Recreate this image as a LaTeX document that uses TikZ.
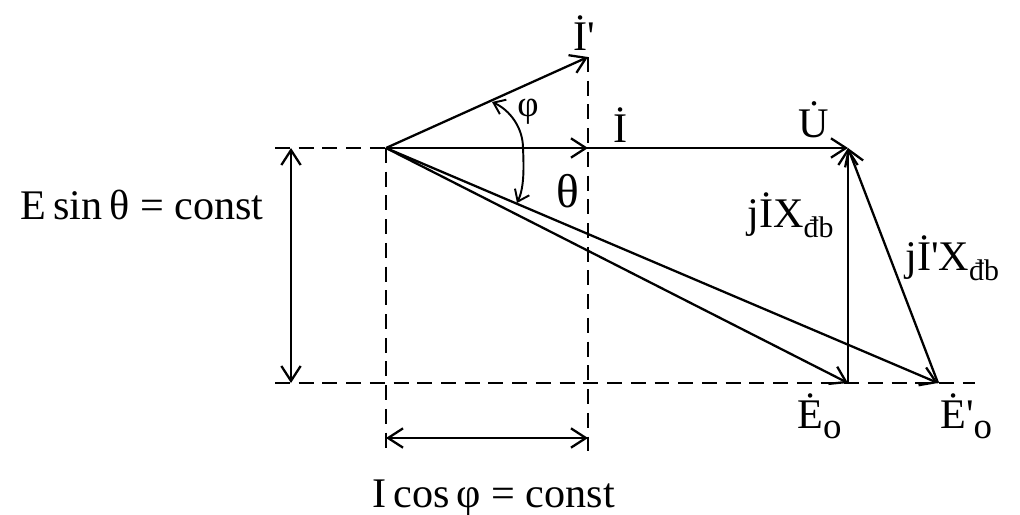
\documentclass[tikz,border=0pt]{standalone}
\usepackage{fontspec}
\setmainfont{Liberation Serif}
\usetikzlibrary{arrows.meta}
\newcommand\dotU{\.{U}}
\newcommand\prm{\textquotesingle}
\newcommand\subsc[1]{\raisebox{-6pt}{\fontsize{17}{20}\selectfont #1}}
\begin{document}
\begin{tikzpicture}[x=0.02cm,y=-0.02cm,
  tip/.tip={Straight Barb[length=8.5pt,width=11pt,line width=1.3pt]},
  smalltip/.tip={Straight Barb[length=6pt,width=9pt,line width=1.1pt]},
  vec/.style={line width=1.3pt,-tip},
  dimarrow/.style={line width=1.3pt,tip-tip},
  anglearc/.style={line width=1.1pt,-smalltip},
  guide/.style={line width=0.85pt,dash pattern=on 8.5pt off 5pt},
  lbl/.style={font=\fontsize{24}{28}\selectfont,inner sep=0pt,anchor=base west}]
\useasboundingbox (0,0) rectangle (1020,514);
% key points
\coordinate (O) at (386,148);
\coordinate (Ip) at (588,57);
\coordinate (I) at (588,148);
\coordinate (U) at (848,148);
\coordinate (E) at (848,383);
\coordinate (Ep) at (938,383);
\coordinate (topL) at (275,148);
\coordinate (botL) at (275,383);
\coordinate (botR) at (975,383);
\coordinate (vO) at (386,450);
\coordinate (vI) at (588,455);
\coordinate (dA) at (291,148);
\coordinate (dB) at (291,383);
\coordinate (hA) at (386,438);
\coordinate (hB) at (588,438);
% guides
\draw[guide] (topL) -- (O);
\draw[guide] (botL) -- (botR);
\draw[guide] (O) -- (vO);
\draw[guide] (Ip) -- (vI);
% dimension arrows
\draw[dimarrow] (dA) -- (dB);
\draw[dimarrow] (hA) -- (hB);
% vectors
\draw[vec] (O) -- (U);
\draw[vec] (O) -- (I);
\draw[vec] (O) -- (Ip);
\draw[vec] (O) -- (E);
\draw[vec] (O) -- (Ep);
\draw[vec] (E) -- (U);
\draw[vec] (Ep) -- (U);
% angle arcs
\coordinate (a0) at (523,148);
\coordinate (aphi) at (492,102);
\coordinate (ath) at (517,203);
\draw[anglearc] (a0) .. controls (523,128) and (510,110) .. (aphi);
\draw[anglearc] (a0) .. controls (524,170) and (524,188) .. (ath);
% labels
\node[lbl] (lIp) at (573,50) {İ\prm};
\node[lbl,font=\fontsize{21}{24}\selectfont,anchor=center] (lphi) at (528,112) {φ};
\node[lbl] (lI) at (613,142) {İ};
\node[lbl,font=\fontsize{27}{30}\selectfont,anchor=base] (lth) at (568,207) {θ};
\node[lbl] (lU) at (798,137) {\dotU};
\node[lbl] (lIX) at (747,227) {jİX\subsc{đb}};
\node[lbl] (lIpX) at (905,270) {jİ\prm X\subsc{đb}};
\node[lbl] (lE) at (797,428) {Ė\raisebox{-6pt}{\fontsize{21}{24}\selectfont o}};
\node[lbl] (lEp) at (940,428) {Ė\prm\raisebox{-6pt}{\fontsize{21}{24}\selectfont o}};
\node[lbl] (lEs) at (20,219) {E\,sin\,θ = const};
\node[lbl] (lIc) at (372,507) {I\,cos\,φ = const};
\end{tikzpicture}
\end{document}
